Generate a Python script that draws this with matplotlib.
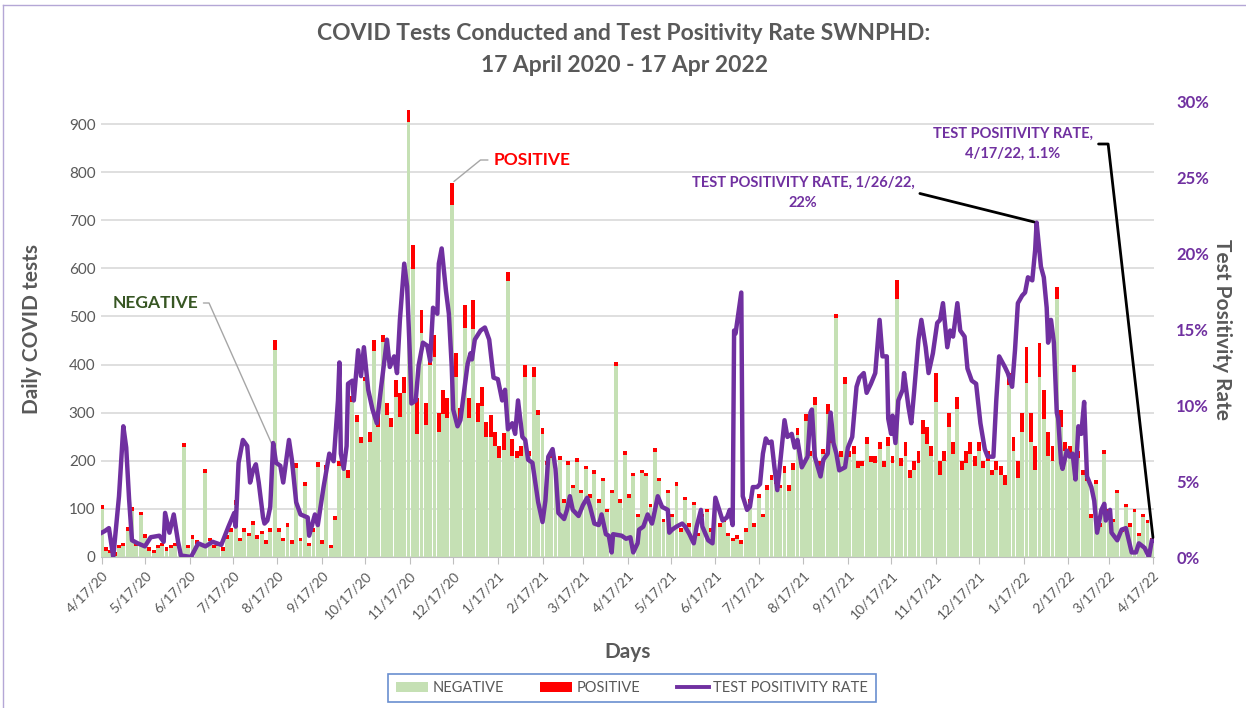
import numpy as np
import pandas as pd
import matplotlib
matplotlib.use("Agg")
import matplotlib.pyplot as plt
from matplotlib.lines import Line2D
from matplotlib.patches import Patch

plt.rcParams["font.family"] = ["Lato", "DejaVu Sans"]

GREY   = "#595959"
GREEN  = "#C5E0B4"
RED    = "#FF0000"
PURPLE = "#7030A0"

START = pd.Timestamp("2020-04-17")

# ── Data (one bar every 3 days) ───────────────────────────────────────────────
tests_total = [
    108, 20, 15, 10, 25, 30, 62, 104, 30, 94, 47, 20, 15, 25, 30, 20, 25, 30, 15, 237,
    25, 45, 35, 30, 183, 40, 25, 30, 20, 45, 60, 118, 40, 60, 50, 75, 45, 55, 35, 60,
    451, 60, 40, 70, 35, 195, 40, 155, 30, 60, 197, 35, 191, 25,
    85, 200, 205, 180, 335, 295, 250, 375, 260, 451, 300, 461, 320, 290, 368, 340,
    375, 929, 649, 330, 513, 320, 430, 461, 300, 347, 330, 777, 424, 310, 524, 330,
    534, 320, 354, 280, 295, 260, 230, 258, 593, 245, 220, 230, 399, 220, 395, 305,
    268, 200, 218, 190, 210, 120, 200, 150, 205, 140, 190, 130, 180, 120, 165, 100,
    140, 405, 120, 220, 130, 175, 90, 181, 175, 110, 226, 165, 80, 140, 90, 155,
    60, 125, 70, 115, 50, 90, 100, 60, 120, 70, 80, 50, 40, 45, 35, 60,
    120, 70, 130, 90, 150, 170, 160, 150, 190, 150, 196, 268, 200, 298, 220, 333,
    200, 225, 318, 250, 506, 220, 374, 220, 230, 200, 200, 250, 210, 210, 240, 200,
    250, 210, 576, 205, 240, 180, 200, 220, 285, 270, 230, 383, 200, 220, 300, 240,
    333, 200, 220, 240, 210, 240, 200, 220, 180, 200, 190, 170, 382, 250, 200, 300,
    437, 300, 230, 445, 347, 260, 230, 561, 305, 240, 230, 399, 220, 180, 170, 90,
    160, 70, 222, 100, 80, 140, 60, 110, 70, 100, 50, 90, 77, 40,
]
positive = [
    8, 7, 7, 7, 7, 7, 7, 8, 7, 7, 7, 7, 7, 7, 7, 7, 7, 7, 7, 8,
    7, 7, 7, 7, 8, 7, 7, 7, 7, 7, 8, 10, 7, 8, 7, 8, 7, 7, 7, 7,
    20, 7, 7, 8, 7, 9, 7, 8, 7, 7, 9, 7, 10, 7,
    8, 10, 12, 15, 12, 14, 12, 10, 20, 23, 30, 15, 25, 20, 35, 48,
    35, 25, 50, 75, 48, 45, 30, 45, 40, 50, 40, 45, 50, 30, 48, 40,
    60, 40, 40, 30, 45, 30, 25, 35, 20, 35, 15, 20, 25, 10, 20, 10,
    12, 8, 12, 10, 8, 7, 8, 7, 8, 7, 7, 7, 7, 7, 7, 7,
    7, 7, 7, 7, 7, 7, 7, 7, 7, 7, 7, 7, 7, 7, 7, 7,
    7, 7, 7, 7, 7, 7, 7, 7, 7, 7, 7, 7, 7, 8, 7, 7,
    7, 7, 7, 7, 10, 10, 8, 7, 15, 12, 15, 15, 12, 15, 10, 18,
    10, 10, 20, 12, 10, 12, 15, 12, 15, 15, 10, 15, 12, 15, 15, 12,
    20, 15, 40, 15, 30, 15, 20, 25, 30, 35, 20, 60, 30, 20, 30, 25,
    25, 20, 25, 25, 20, 20, 15, 20, 10, 20, 20, 20, 25, 30, 35, 40,
    75, 60, 50, 70, 60, 50, 30, 25, 35, 20, 20, 15, 15, 10, 12, 8,
    8, 7, 7, 7, 7, 7, 7, 7, 7, 7, 7, 7, 7, 7,
]

rate_days = [
    0, 2, 5, 8, 12, 15, 17, 19, 21, 25, 30, 34, 40, 43, 44, 47, 50, 53, 55, 62,
    67, 72, 77, 83, 88, 92, 93, 95, 98, 101, 103, 105, 107, 109, 112, 113, 115, 117, 119, 121,
    124, 126, 130, 132, 135, 138, 143, 144, 148, 150, 154, 158, 161, 164, 165, 166, 168, 170, 171, 174,
    175, 178, 180, 182, 185, 188, 191, 194, 198, 200, 203, 205, 207, 210, 212, 214, 215, 218, 220, 223,
    226, 228, 230, 233, 234, 236, 239, 241, 243, 244, 247, 249, 252, 254, 256, 257, 259, 263, 266, 269,
    272, 275, 278, 280, 282, 285, 287, 289, 292, 294, 296, 299, 301, 303, 306, 308, 310, 313, 315, 317,
    321, 323, 325, 327, 331, 334, 337, 339, 342, 345, 347, 350, 352, 354, 355, 361, 364, 367, 369, 372,
    373, 376, 379, 382, 383, 386, 389, 393, 394, 396, 399, 403, 405, 408, 411, 413, 416, 417, 421, 424,
    426, 428, 431, 434, 436, 438, 439, 440, 444, 445, 448, 450, 452, 455, 457, 459, 461, 463, 465, 467,
    469, 471, 474, 476, 479, 481, 483, 486, 490, 492, 493, 495, 499, 501, 504, 506, 508, 510, 512, 516,
    518, 521, 524, 526, 529, 531, 534, 537, 540, 542, 545, 546, 548, 549, 551, 553, 556, 557, 560, 562,
    564, 567, 569, 572, 574, 577, 580, 582, 584, 587, 589, 591, 594, 596, 599, 601, 604, 607, 610, 613,
    615, 619, 621, 623, 627, 629, 632, 634, 636, 639, 641, 643, 646, 648, 649, 652, 654, 656, 657, 659,
    661, 663, 664, 666, 667, 670, 672, 674, 676, 678, 680, 682, 684, 687, 689, 691, 694, 696, 697, 700,
    701, 705, 708, 711, 713, 715, 718, 720, 724, 727, 729, 730,
]
rate_pct = [
    1.6, 1.7, 1.9, 0.0, 4.0, 8.6, 7.2, 3.8, 1.1, 0.9, 0.7, 1.3, 1.4, 1.0, 2.9, 1.6, 2.8, 1.0, 0.1, 0.0,
    0.9, 0.7, 1.0, 0.8, 2.0, 2.9, 2.0, 6.2, 7.7, 7.3, 4.9, 5.7, 6.1, 4.9, 2.6, 2.2, 2.4, 3.3, 7.5, 6.2,
    6.0, 4.9, 7.7, 6.4, 3.6, 2.8, 2.6, 1.4, 2.8, 2.1, 4.6, 6.8, 6.3, 10.3, 12.8, 6.8, 5.8, 7.3, 11.4, 11.6,
    10.3, 13.6, 11.9, 13.8, 11.0, 9.7, 8.8, 11.2, 14.3, 12.5, 13.2, 12.1, 15.6, 19.3, 17.8, 13.1, 10.1, 10.3, 12.6, 14.1,
    13.9, 12.9, 16.4, 16.0, 19.3, 20.3, 17.5, 16.0, 12.5, 9.7, 8.6, 9.0, 11.2, 12.7, 13.4, 13.0, 14.3, 14.9, 15.1, 14.3,
    11.8, 11.7, 10.3, 11.0, 8.4, 8.8, 8.1, 10.3, 7.9, 7.7, 6.4, 6.2, 4.9, 3.6, 2.3, 3.7, 6.6, 7.1, 5.8, 2.9,
    2.5, 3.1, 4.0, 3.1, 2.7, 3.4, 3.9, 3.3, 2.2, 2.1, 2.8, 1.5, 1.4, 0.3, 1.5, 1.4, 1.2, 1.3, 0.3, 0.9,
    1.8, 2.0, 2.8, 2.2, 2.6, 4.0, 3.3, 3.1, 1.6, 1.8, 2.0, 2.2, 2.0, 1.5, 0.9, 2.0, 3.1, 2.0, 1.1, 0.9,
    3.9, 3.3, 2.4, 2.6, 3.1, 2.1, 14.9, 14.7, 17.4, 4.0, 3.1, 3.3, 4.6, 4.6, 4.8, 6.8, 7.8, 7.5, 7.6, 5.9,
    4.4, 6.2, 9.0, 7.9, 8.1, 7.2, 7.7, 5.9, 6.6, 9.5, 9.7, 6.6, 5.3, 6.4, 6.8, 9.5, 7.5, 6.8, 5.7, 5.9,
    7.2, 7.9, 11.2, 11.8, 12.1, 10.8, 11.4, 12.1, 15.6, 13.2, 13.2, 9.1, 8.1, 9.3, 7.5, 10.3, 11.0, 12.1, 9.9, 8.8,
    10.9, 14.3, 15.6, 13.8, 12.1, 13.4, 15.4, 15.6, 16.7, 13.8, 14.9, 14.5, 16.7, 14.9, 14.5, 12.4, 11.6, 11.4, 8.8, 7.1,
    6.6, 6.6, 10.3, 13.2, 12.5, 12.1, 11.2, 13.6, 16.7, 17.2, 17.4, 18.4, 18.2, 20.2, 22.0, 19.1, 18.4, 16.4, 14.1, 15.6,
    14.1, 9.5, 9.1, 6.2, 5.8, 7.0, 6.6, 6.8, 5.1, 8.6, 8.1, 10.2, 5.3, 4.6, 3.7, 1.6, 3.1, 3.5, 2.4, 3.1,
    1.6, 1.1, 1.8, 1.9, 1.1, 0.3, 0.3, 0.9, 0.6, 0.0, 1.1, 1.1,
]

left_ticks  = [0, 100, 200, 300, 400, 500, 600, 700, 800, 900]
right_ticks = [0.0, 0.05, 0.10, 0.15, 0.20, 0.25, 0.30]

# ── Build series ───────────────────────────────────────────────────────────────
tests_total = np.array(tests_total, dtype=float)
positive    = np.array(positive, dtype=float)
negative    = tests_total - positive
bar_dates   = START + pd.to_timedelta(np.arange(len(tests_total)) * 3, unit="D")
rate_dates  = START + pd.to_timedelta(rate_days, unit="D")
rate        = np.array(rate_pct) / 100.0

tick_dates  = pd.date_range("2020-04-17", "2022-04-17", freq=pd.DateOffset(months=1))
tick_labels = [f"{d.month}/{d.day}/{d.strftime('%y')}" for d in tick_dates]

# ── Figure ─────────────────────────────────────────────────────────────────────
fig = plt.figure(figsize=(12.46, 7.08), dpi=100)
ax  = fig.add_axes([101 / 1246, 1 - 557 / 708, 1053 / 1246, 456 / 708])

ax.bar(bar_dates, negative, width=2.7, color=GREEN, linewidth=0, zorder=2)
ax.bar(bar_dates, positive, bottom=negative, width=2.7, color=RED, linewidth=0, zorder=2)

ax.set_xlim(START - pd.Timedelta(days=0.5), START + pd.Timedelta(days=730.5))
ax.set_ylim(0, 948)
ax.set_yticks(left_ticks)
ax.yaxis.grid(True, color="#D9D9D9", linewidth=1.2)
ax.set_axisbelow(True)
ax.set_xticks(tick_dates)
ax.set_xticklabels(tick_labels, rotation=45, ha="right", rotation_mode="anchor",
                   fontsize=10, color=GREY)
ax.tick_params(axis="x", length=5, color="#BFBFBF", pad=4)
ax.tick_params(axis="y", length=0, labelsize=11, labelcolor=GREY, pad=4)
for s in ["top", "left", "right"]:
    ax.spines[s].set_visible(False)
ax.spines["bottom"].set_color("#BFBFBF")

ax.set_ylabel("Daily COVID tests", fontsize=15, fontweight="bold", color=GREY)
ax.yaxis.set_label_coords(-0.056, 0.5)
ax.set_xlabel("Days", fontsize=15, fontweight="bold", color=GREY)
ax.xaxis.set_label_coords(0.5, -0.186)

ax2 = ax.twinx()
ax2.plot(rate_dates, rate, color=PURPLE, linewidth=3.2, solid_joinstyle="round", zorder=3)
ax2.set_ylim(0, 0.30)
ax2.set_yticks(right_ticks)
ax2.set_yticklabels([f"{int(round(t * 100))}%" for t in right_ticks],
                    fontsize=12, fontweight="bold", color=PURPLE)
ax2.tick_params(axis="y", length=0, pad=16)
for s in ax2.spines.values():
    s.set_visible(False)
ax2.set_ylabel("Test Positivity Rate", rotation=270, fontsize=15, fontweight="bold",
               color=GREY, va="center")
ax2.yaxis.set_label_coords(1.0646, 0.5)

# ── Annotations ────────────────────────────────────────────────────────────────
ax.annotate("NEGATIVE", xy=(bar_dates[40], 222), xytext=(155, 405),
            textcoords="figure pixels", ha="center", va="center",
            fontsize=12.5, fontweight="bold", color="#375623",
            arrowprops=dict(arrowstyle="-", color="#A6A6A6", lw=1,
                            connectionstyle="angle,angleA=0,angleB=114,rad=0"))
ax.annotate("POSITIVE", xy=(bar_dates[81], tests_total[81]), xytext=(532, 548),
            textcoords="figure pixels", ha="center", va="center",
            fontsize=12.5, fontweight="bold", color=RED,
            arrowprops=dict(arrowstyle="-", color="#A6A6A6", lw=1,
                            connectionstyle="angle,angleA=0,angleB=39,rad=0"))
peak = int(np.argmax(rate))
ax2.annotate("TEST POSITIVITY RATE, 1/26/22,\n22%", xy=(rate_dates[peak], rate[peak]),
             xytext=(803, 515), textcoords="figure pixels", ha="center", va="center",
             fontsize=10.5, fontweight="bold", color=PURPLE, linespacing=1.5,
             arrowprops=dict(arrowstyle="-", color="black", lw=2,
                             connectionstyle="angle,angleA=0,angleB=166,rad=0"))
ax2.annotate("TEST POSITIVITY RATE,\n4/17/22, 1.1%", xy=(rate_dates[-1], rate[-1]),
             xytext=(1013, 564), textcoords="figure pixels", ha="center", va="center",
             fontsize=10.5, fontweight="bold", color=PURPLE, linespacing=1.5,
             arrowprops=dict(arrowstyle="-", color="black", lw=2,
                             connectionstyle="angle,angleA=0,angleB=96.5,rad=0"))

# ── Title, legend, frame ───────────────────────────────────────────────────────
fig.text(624 / 1246, 1 - 33 / 708, "COVID Tests Conducted and Test Positivity Rate SWNPHD:",
         ha="center", va="center", fontsize=16.5, fontweight="bold", color=GREY)
fig.text(624 / 1246, 1 - 65 / 708, "17 April 2020 - 17 Apr 2022",
         ha="center", va="center", fontsize=16.5, fontweight="bold", color=GREY)

handles = [Patch(facecolor=GREEN, label="NEGATIVE"),
           Patch(facecolor=RED, label="POSITIVE"),
           Line2D([0], [0], color=PURPLE, lw=2.8, label="TEST POSITIVITY RATE")]
leg = fig.legend(handles=handles, loc="center", bbox_to_anchor=(632 / 1246, 1 - 688 / 708),
                 ncol=3, frameon=True, fancybox=False, edgecolor="#4472C4",
                 fontsize=10.5, labelcolor=GREY, handlelength=2.2, columnspacing=2.5,
                 borderpad=0.5, handletextpad=0.3)
leg.get_frame().set_linewidth(1.2)

fig.add_artist(Line2D([3 / 1246, 3 / 1246], [0, 1 - 5 / 708], color="#B4A7D6", lw=1))
fig.add_artist(Line2D([3 / 1246, 1], [1 - 5 / 708, 1 - 5 / 708], color="#B4A7D6", lw=1))

fig.savefig("out.png", dpi=100)
plt.close(fig)
